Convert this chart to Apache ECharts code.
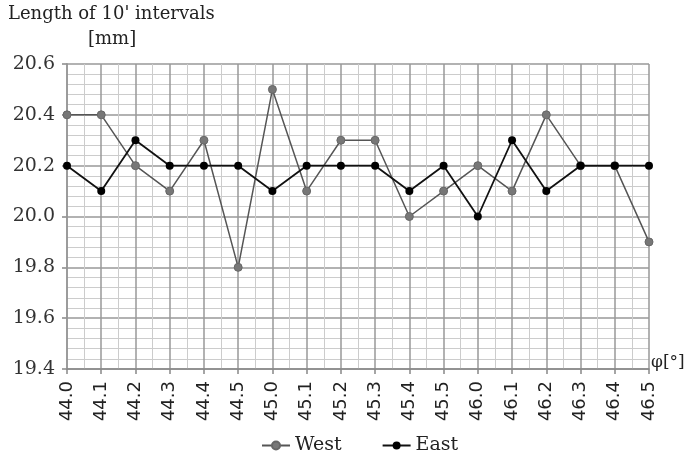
<!DOCTYPE html>
<html><head><meta charset="utf-8">
<script src="https://cdn.jsdelivr.net/npm/echarts@6/dist/echarts.min.js"></script>
<style>html,body{margin:0;padding:0;background:#fff}#c{width:692px;height:458px}</style>
</head><body><div id="c"></div>
<script>
const categories = ['44.0','44.1','44.2','44.3','44.4','44.5','45.0','45.1','45.2','45.3','45.4','45.5','46.0','46.1','46.2','46.3','46.4','46.5'];
const west = [20.4,20.4,20.2,20.1,20.3,19.8,20.5,20.1,20.3,20.3,20.0,20.1,20.2,20.1,20.4,20.2,20.2,19.9];
const east = [20.2,20.1,20.3,20.2,20.2,20.2,20.1,20.2,20.2,20.2,20.1,20.2,20.0,20.3,20.1,20.2,20.2,20.2];
const yTicks = ['19.4','19.6','19.8','20.0','20.2','20.4','20.6'];

const serif = 'DejaVu Serif';
const chart = echarts.init(document.getElementById('c'), null, {renderer:'canvas'});
chart.setOption({
  animation:false,
  backgroundColor:'#fff',
  grid:{left:67,right:43,top:64,bottom:89,containLabel:false},
  graphic:[
    {type:'text',left:8,top:5,style:{text:"Length of 10' intervals",font:'18px "DejaVu Serif"',fill:'#222'}},
    {type:'text',left:88,top:30,style:{text:'[mm]',font:'18px "DejaVu Serif"',fill:'#222'}}
  ],
  legend:{
    data:['West','East'],bottom:-2,left:256,itemWidth:28,itemHeight:10,itemGap:40,
    textStyle:{fontFamily:serif,fontSize:19,color:'#222'}
  },
  xAxis:[{
    type:'category',data:categories,boundaryGap:false,
    name:'φ[°]',nameLocation:'end',nameGap:2,
    nameTextStyle:{fontFamily:serif,fontSize:17,color:'#222',verticalAlign:'bottom',padding:[0,0,-2,0]},
    axisLine:{lineStyle:{color:'#888',width:1.5}},
    axisTick:{show:true,length:5,lineStyle:{color:'#888',width:1.5}},
    axisLabel:{rotate:90,margin:12,fontFamily:'DejaVu Sans',fontSize:18,color:'#222'},
    splitLine:{show:true,lineStyle:{color:'#999',width:1.5}},
    z:3
  },{
    type:'value',min:0,max:categories.length-1,interval:1,position:'bottom',
    axisLine:{show:false},axisTick:{show:false},axisLabel:{show:false},
    splitLine:{show:false},
    minorTick:{show:false,splitNumber:2},
    minorSplitLine:{show:true,lineStyle:{color:'#ccc',width:1}},
    z:1
  }],
  yAxis:{
    type:'value',min:19.4,max:20.6,interval:0.2,
    axisLine:{show:true,lineStyle:{color:'#888',width:1.5}},
    axisTick:{show:true,length:5,lineStyle:{color:'#888',width:1.5}},
    axisLabel:{margin:12,fontFamily:serif,fontSize:19,color:'#333',formatter:(v,i)=>yTicks[i]},
    splitLine:{show:true,lineStyle:{color:'#999',width:1.5}},
    minorTick:{show:false,splitNumber:5},
    minorSplitLine:{show:true,lineStyle:{color:'#ccc',width:1}}
  },
  series:[
    {name:'West',type:'line',data:west,symbol:'circle',symbolSize:8,
     lineStyle:{color:'#555',width:1.5},itemStyle:{color:'#777',borderColor:'#666',borderWidth:1},z:3},
    {name:'East',type:'line',data:east,symbol:'circle',symbolSize:8,
     lineStyle:{color:'#111',width:1.8},itemStyle:{color:'#000'},z:4}
  ]
});
</script></body></html>
